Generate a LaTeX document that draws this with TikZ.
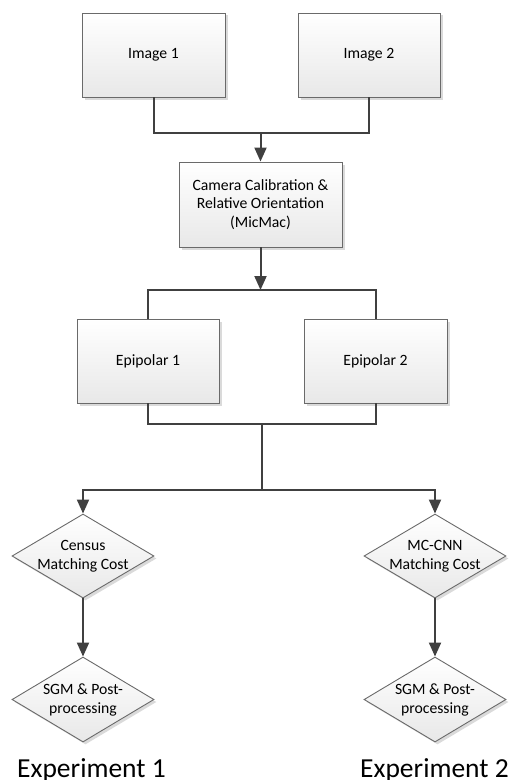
\documentclass[tikz,border=0pt]{standalone}
\usepackage{fontspec}
\setmainfont{Carlito}
\usetikzlibrary{arrows.meta,shapes.geometric,shadows}
\definecolor{linec}{HTML}{404040}
\definecolor{edgec}{HTML}{6A6A6A}
\definecolor{botc}{HTML}{E8E8E8}
\definecolor{shadc}{HTML}{DADADA}
\begin{document}
\begin{tikzpicture}[x=1bp,y=-1bp,
  boxsty/.style={rectangle,draw=edgec,line width=0.9bp,top color=white,bottom color=botc,
    drop shadow={shadow xshift=2.5bp,shadow yshift=-2.5bp,fill=shadc,opacity=1},
    inner sep=0pt,align=center,font=\fontsize{15.7bp}{18.6bp}\selectfont},
  diasty/.style={diamond,draw=edgec,line width=0.9bp,top color=white,bottom color=botc,
    drop shadow={shadow xshift=2.5bp,shadow yshift=-2.5bp,fill=shadc,opacity=1},
    inner sep=0pt,minimum width=142bp,minimum height=84bp},
  dtext/.style={align=center,inner sep=0pt,font=\fontsize{15.7bp}{19bp}\selectfont},
  conn/.style={draw=linec,line width=2bp},
  arr/.style={conn,-{Triangle[length=14bp,width=12bp]}},
  expsty/.style={anchor=base,inner sep=0pt,font=\fontsize{27.5bp}{30bp}\selectfont}]
\useasboundingbox (0,0) rectangle (512,780);
\node[boxsty,minimum width=143bp,minimum height=84bp] (i1) at (153.5,55) {Image 1};
\node[boxsty,minimum width=142bp,minimum height=84bp] (i2) at (369,55) {Image 2};
\node[boxsty,minimum width=163bp,minimum height=85bp] (cam) at (260.5,204.5) {Camera Calibration \&\\Relative Orientation\\(MicMac)};
\node[boxsty,minimum width=142bp,minimum height=84bp] (e1) at (148,361) {Epipolar 1};
\node[boxsty,minimum width=143bp,minimum height=84bp] (e2) at (375.5,361) {Epipolar 2};
\node[diasty,label={[dtext]center:Census\\Matching Cost}] (d1) at (83,556) {};
\node[diasty,label={[dtext]center:MC-CNN\\Matching Cost}] (d2) at (435,556) {};
\node[diasty,minimum height=85bp,label={[dtext]center:SGM \& Post-\\processing}] (d3) at (83,699.5) {};
\node[diasty,minimum height=85bp,label={[dtext]center:SGM \& Post-\\processing}] (d4) at (435,699.5) {};
\node[expsty] (x1) at (91.5,777.7) {Experiment 1};
\node[expsty] (x2) at (434.5,777.7) {Experiment 2};
\coordinate (j1) at (260.5,133);
\coordinate (j2) at (260.5,290);
\coordinate (j3) at (261.5,424);
\coordinate (j4) at (261.5,490);
\draw[conn] (i1.south) |- (j1) -| (i2.south);
\draw[arr] (j1) -- (cam.north);
\draw[arr] (cam.south) -- (j2);
\draw[conn] (e1.north) |- (j2) -| (e2.north);
\draw[conn] (e1.south) |- (j3) -| (e2.south);
\draw[conn] (j3) -- (j4);
\draw[arr] (j4) -| (d1.north);
\draw[arr] (j4) -| (d2.north);
\draw[arr] (d1.south) -- (d3.north);
\draw[arr] (d2.south) -- (d4.north);
\end{tikzpicture}
\end{document}
